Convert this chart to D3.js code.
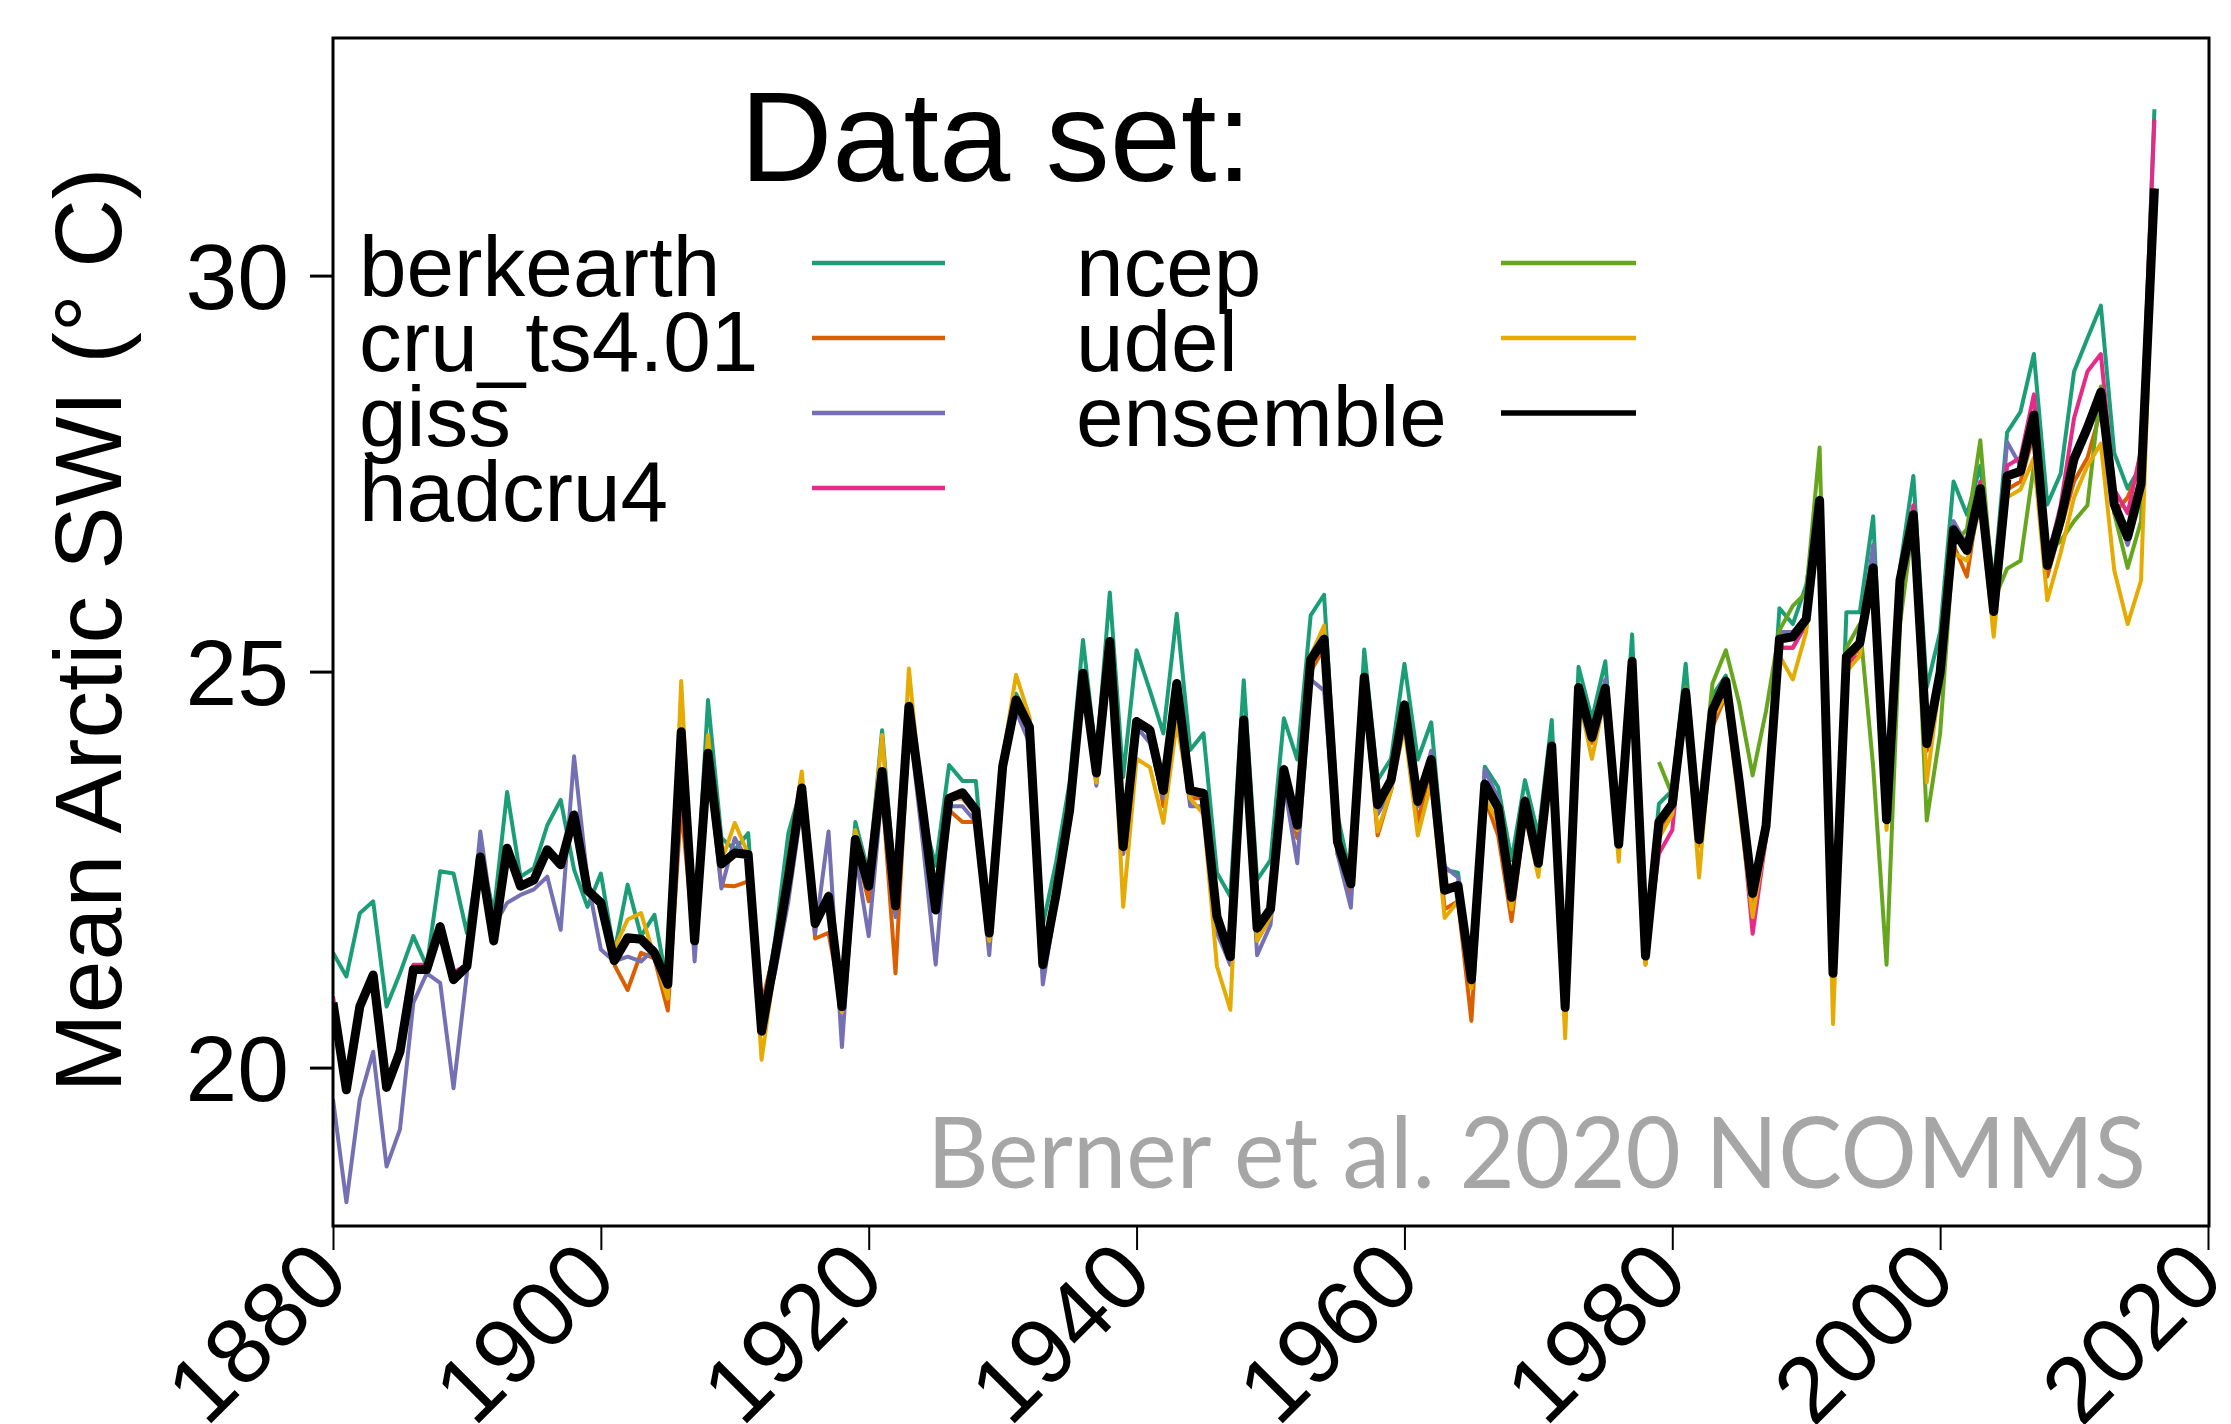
<!DOCTYPE html>
<html><head><meta charset="utf-8">
<script src="https://cdn.jsdelivr.net/npm/d3@7"></script>
<style>html,body{margin:0;padding:0;background:#fff;} svg{display:block;}</style>
</head><body>
<script>
// ---------------- DATA ----------------
const seriesNames  = ["berkearth","cru_ts4.01","giss","hadcru4","ncep","udel","ensemble"];
const seriesColors = ["#1b9e77","#d95f02","#7570b3","#e7298a","#66a61e","#e6ab02","#000000"];
const startYears   = [1880,1901,1880,1880,1979,1900,1880];

const berkearth = [
21.45,21.15,21.95,22.10,20.77,21.19,21.66,21.28,22.48,22.45,
21.70,22.75,21.95,23.48,22.41,22.52,23.06,23.38,22.50,22.03,
22.45,21.45,22.31,21.66,21.93,21.00,24.15,21.70,24.64,22.90,
22.75,22.96,20.60,21.60,22.96,23.55,21.90,22.20,20.90,23.10,
22.45,24.26,22.20,24.60,23.20,22.55,23.82,23.62,23.62,21.75,
23.90,24.72,24.40,21.80,22.60,23.60,25.40,23.90,26.00,23.67,
25.27,24.76,24.22,25.73,24.01,24.22,22.46,22.16,24.89,22.37,
22.62,24.41,23.89,25.71,25.97,23.19,22.40,25.28,23.63,23.90,
25.10,23.89,24.36,22.50,22.46,21.20,23.80,23.54,22.62,23.63,
22.93,24.39,20.90,25.06,24.40,25.13,23.00,25.47,21.50,23.33,
23.50,25.10,23.00,24.70,24.95,23.75,22.30,23.20,25.80,25.60,
26.09,27.20,21.25,25.75,25.75,26.96,23.30,26.30,27.47,24.80,
25.50,27.40,26.98,27.60,26.10,28.02,28.28,29.01,27.11,27.50,
28.79,29.21,29.62,27.76,27.31,27.60,32.10];

const cru = [
21.30,20.98,21.45,21.38,20.72,23.30,21.50,23.90,22.30,
22.29,22.35,20.80,21.50,22.30,23.40,21.63,21.70,20.80,22.80,
22.10,23.50,21.19,24.30,23.20,22.00,23.25,23.10,23.10,21.60,
23.70,24.60,24.30,21.20,22.10,23.10,24.90,23.60,25.20,22.70,
24.40,24.30,23.30,24.70,23.40,23.40,21.80,21.30,24.30,21.60,
21.90,23.60,22.90,25.00,25.30,22.70,22.20,24.80,22.93,23.50,
24.40,23.10,23.80,22.00,22.10,20.59,23.40,22.93,21.85,23.20,
22.50,24.00,20.70,24.80,24.10,24.80,22.70,25.00,21.30,23.00,
23.20,24.60,22.80,24.30,24.70,23.50,22.00,23.00,25.30,25.30,
25.60,27.10,21.10,25.10,25.30,26.40,23.10,26.00,26.90,24.00,
24.90,26.60,26.20,27.30,25.70,27.30,27.40,28.00,26.20,26.80,
27.40,27.70,28.30,27.00,27.20,27.60,31.10];

const giss = [
19.60,18.30,19.60,20.20,18.75,19.22,20.82,21.19,21.07,19.74,
21.19,22.98,21.78,22.08,22.18,22.25,22.41,21.74,23.93,22.37,
21.49,21.34,21.40,21.34,21.50,21.10,24.00,21.34,23.80,22.26,
22.90,22.60,20.50,21.20,22.10,23.30,21.69,22.98,20.26,22.70,
21.66,23.50,21.90,24.40,22.90,21.30,23.30,23.30,23.10,21.42,
23.70,24.50,24.10,21.05,22.10,23.20,24.90,23.56,25.30,22.70,
24.30,24.10,23.40,24.70,23.30,23.30,21.70,21.30,24.30,21.42,
21.80,23.60,22.58,24.90,24.76,22.70,22.02,24.80,23.20,23.50,
24.50,23.30,24.00,22.54,22.40,21.20,23.76,23.40,22.20,23.40,
22.60,24.10,20.80,24.80,24.20,24.90,22.80,25.10,21.40,23.10,
23.30,24.70,22.90,24.50,24.90,23.60,22.20,23.00,25.50,25.50,
25.70,27.10,21.20,25.20,25.40,26.60,23.20,26.20,27.00,24.20,
25.10,26.90,26.60,27.30,25.80,27.90,27.60,28.20,26.40,26.80,
27.60,28.00,28.50,27.10,26.60,27.20,31.00];

const hadcru4 = [
20.90,19.80,20.80,21.10,19.80,20.30,21.30,21.30,21.70,21.20,
21.30,22.60,21.60,22.70,22.30,22.40,22.70,22.60,23.10,22.30,
22.10,21.40,21.60,21.60,21.50,21.10,24.20,21.60,23.90,22.60,
22.70,22.70,20.50,21.40,22.40,23.50,21.80,22.10,20.80,22.90,
22.30,23.70,22.00,24.50,23.30,22.00,23.40,23.40,23.20,21.70,
23.80,24.60,24.30,21.30,22.20,23.20,24.90,23.70,25.30,22.80,
24.40,24.30,23.50,24.80,23.50,23.50,21.90,21.40,24.40,21.80,
22.00,23.80,23.10,25.10,25.40,22.90,22.30,24.90,23.30,23.60,
24.60,23.40,23.90,22.30,22.30,21.10,23.60,23.30,22.10,23.40,
22.60,24.00,20.80,24.80,24.20,24.80,22.80,25.10,21.40,22.70,
23.00,24.70,22.90,24.40,24.70,23.50,21.69,22.90,25.30,25.30,
25.60,27.10,21.20,25.10,25.20,26.30,23.10,26.10,27.10,24.10,
25.00,26.70,26.60,27.40,25.80,27.60,27.70,28.50,26.40,27.10,
28.20,28.79,29.01,27.30,27.00,27.80,31.97];

const ncep = [
23.86,
23.44,24.80,23.20,24.85,25.27,24.60,23.69,24.50,25.52,25.83,
26.00,27.83,21.50,25.30,25.60,23.80,21.30,25.60,26.90,23.12,
24.22,26.60,26.80,27.92,25.90,26.30,26.40,27.60,26.50,26.65,
26.90,27.10,28.60,27.00,26.31,26.90,31.00];

const udel = [
22.10,21.50,21.87,21.95,21.40,20.87,24.88,21.70,24.20,22.60,
23.09,22.70,20.10,21.30,22.60,23.74,21.90,22.20,20.70,23.00,
22.40,24.20,22.00,25.04,23.30,22.10,23.40,23.40,23.20,21.60,
23.90,24.96,24.43,21.30,22.20,23.30,25.00,23.60,25.30,22.03,
23.90,23.79,23.09,24.35,23.40,23.20,21.28,20.73,24.35,21.60,
21.90,23.70,23.00,25.20,25.58,22.80,22.30,24.80,22.98,23.50,
24.30,22.93,23.60,21.89,22.10,21.00,23.40,23.10,22.00,23.20,
22.41,24.00,20.37,24.70,23.90,24.70,22.60,25.10,21.30,22.90,
23.20,24.60,22.40,24.40,24.70,23.30,21.90,22.90,25.20,24.90,
25.50,27.10,20.55,25.00,25.20,26.20,23.00,26.00,26.80,23.60,
24.90,26.50,26.40,27.10,25.44,27.20,27.30,27.70,25.90,26.50,
27.20,27.60,27.88,26.28,25.60,26.15,31.00];

const ensemble = [
20.82,19.72,20.77,21.17,19.75,20.20,21.24,21.24,21.78,21.11,
21.28,22.66,21.60,22.77,22.29,22.37,22.75,22.56,23.19,22.24,
22.08,21.35,21.64,21.62,21.45,21.05,24.24,21.60,23.97,22.57,
22.71,22.69,20.46,21.40,22.40,23.53,21.82,22.16,20.77,22.88,
22.29,23.74,22.04,24.56,23.30,21.99,23.40,23.47,23.25,21.70,
23.80,24.64,24.30,21.30,22.20,23.25,24.98,23.72,25.38,22.79,
24.37,24.26,23.50,24.85,23.50,23.46,21.91,21.40,24.39,21.76,
22.00,23.76,23.06,25.15,25.41,22.85,22.32,24.93,23.32,23.63,
24.58,23.36,23.89,22.24,22.30,21.11,23.58,23.28,22.15,23.36,
22.58,24.06,20.76,24.80,24.17,24.79,22.82,25.13,21.41,23.10,
23.33,24.74,22.88,24.51,24.88,23.61,22.20,23.05,25.41,25.44,
25.66,27.16,21.19,25.19,25.36,26.31,23.13,26.15,26.98,24.09,
24.99,26.79,26.53,27.31,25.76,27.47,27.53,28.24,26.34,26.92,
27.69,28.08,28.53,27.11,26.70,27.37,31.10];

const seriesValues = [berkearth, cru, giss, hadcru4, ncep, udel, ensemble];
const xTicks = [1880,1900,1920,1940,1960,1980,2000,2020];
const yTicks = [20,25,30];
const legendTitle = "Data set:";
const yLabel = "Mean Arctic SWI (\u00B0 C)";
const creditText = "Berner et al. 2020 NCOMMS";

// ---------------- CHART ----------------
const W = 2231, H = 1424;
const L = 333, R = 2209, T = 38, B = 1226;
const FONT = "'Liberation Sans', Arial, Helvetica, sans-serif";

const svg = d3.select("body").append("svg").attr("width", W).attr("height", H);

const x = d3.scaleLinear().domain([1880, 2020]).range([L, 2208]);
const y = d3.scaleLinear().domain([18, 33]).range([B, T]);

const series = seriesNames.map((name, i) => ({
  name, color: seriesColors[i],
  values: seriesValues[i].map((v, j) => ({year: startYears[i] + j, value: v}))
}));

svg.append("defs").append("clipPath").attr("id","clip")
  .append("rect").attr("x", L).attr("y", T).attr("width", R - L).attr("height", B - T);

const line = d3.line().x(d => x(d.year)).y(d => y(d.value));

const g = svg.append("g").attr("clip-path","url(#clip)");
series.forEach(s => {
  g.append("path").datum(s.values)
    .attr("fill","none")
    .attr("stroke", s.color)
    .attr("stroke-width", s.name === "ensemble" ? 9 : 4)
    .attr("stroke-linejoin","round")
    .attr("d", line);
});

// credit text
svg.append("text")
  .attr("x", 2146).attr("y", 1188)
  .attr("text-anchor","end")
  .attr("font-family","Lato, 'Open Sans', sans-serif")
  .attr("font-size", 98)
  .attr("fill","#a6a6a6")
  .attr("textLength", 1219).attr("lengthAdjust","spacingAndGlyphs")
  .text(creditText);

// box
svg.append("rect").attr("x", L).attr("y", T).attr("width", R - L).attr("height", B - T)
  .attr("fill","none").attr("stroke","#000").attr("stroke-width",3);

// y axis
const yAxis = svg.append("g").attr("transform", `translate(${L},0)`)
  .call(d3.axisLeft(y).tickValues(yTicks).tickSize(23).tickPadding(21).tickFormat(d3.format("d")));
yAxis.select(".domain").remove();
yAxis.selectAll("line").attr("stroke","#000").attr("stroke-width",3);
yAxis.selectAll("text").attr("font-family", FONT).attr("font-size", 93).attr("fill","#000")
  .attr("dy","0.35em");

// x axis
const xAxis = svg.append("g").attr("transform", `translate(0,${B})`)
  .call(d3.axisBottom(x).tickValues(xTicks).tickSize(24).tickFormat(d3.format("d")));
xAxis.select(".domain").remove();
xAxis.selectAll("line").attr("stroke","#000").attr("stroke-width",2);
xAxis.selectAll("text")
  .attr("font-family", FONT).attr("font-size", 93).attr("fill","#000")
  .attr("x", 0).attr("y", 0).attr("dy","0.35em")
  .attr("text-anchor","end")
  .attr("transform", "translate(-4,33) rotate(-45)");

// y label
svg.append("text")
  .attr("transform", `translate(121,${(T + B) / 2 - 2}) rotate(-90)`)
  .attr("text-anchor","middle")
  .attr("font-family", FONT).attr("font-size", 95)
  .text(yLabel);

// legend
svg.append("text")
  .attr("x", 996).attr("y", 181)
  .attr("text-anchor","middle")
  .attr("font-family", FONT).attr("font-size", 128)
  .text(legendTitle);

const colText = [359, 1076];
const colLine = [[812, 945], [1501, 1636]];
const rowY = [263, 338, 413, 488];
series.forEach((s, i) => {
  const c = i < 4 ? 0 : 1;
  const r = i < 4 ? i : i - 4;
  svg.append("line")
    .attr("x1", colLine[c][0]).attr("x2", colLine[c][1])
    .attr("y1", rowY[r]).attr("y2", rowY[r])
    .attr("stroke", s.color).attr("stroke-width", s.name === "ensemble" ? 5.5 : 4.5);
  svg.append("text")
    .attr("x", colText[c]).attr("y", rowY[r] + 33)
    .attr("font-family", FONT).attr("font-size", 85.5)
    .text(s.name);
});
</script>
</body></html>
